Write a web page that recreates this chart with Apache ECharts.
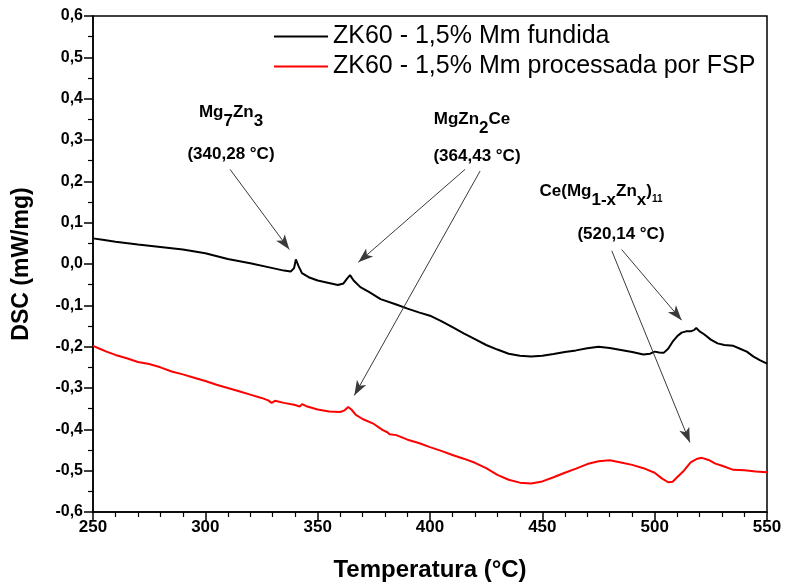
<!DOCTYPE html>
<html><head><meta charset="utf-8">
<script src="https://cdn.jsdelivr.net/npm/echarts@6/dist/echarts.min.js"></script>
<style>html,body{margin:0;padding:0;background:#fff}#c{width:786px;height:587px}</style>
</head><body><div id="c"></div>
<script>
const seriesNames = ['ZK60 - 1,5% Mm fundida', 'ZK60 - 1,5% Mm processada por FSP'];
const xTitle = 'Temperatura (°C)';
const yTitle = 'DSC (mW/mg)';

const blackT = [250,255,260,270,280,290,300,310,320,330,335,338,339.5,340.3,341.5,343,346,350,355,359,361.5,363,364.4,366,369,373,378,385,390,395,400,405,410,415,420,425,430,435,440,445,450,455,460,465,470,475,480,485,490,495,498,500,502,504,506,508,510,512,514,516,517.5,518.5,520,522,525,528,531,535,538,541,544,547,550];
const blackV = [0.062,0.058,0.054,0.047,0.041,0.035,0.026,0.012,0.002,-0.010,-0.016,-0.018,-0.010,0.011,-0.005,-0.022,-0.032,-0.040,-0.046,-0.051,-0.047,-0.036,-0.027,-0.040,-0.056,-0.068,-0.085,-0.098,-0.108,-0.117,-0.125,-0.138,-0.153,-0.168,-0.182,-0.196,-0.207,-0.217,-0.222,-0.224,-0.222,-0.218,-0.213,-0.209,-0.204,-0.200,-0.203,-0.208,-0.213,-0.219,-0.217,-0.212,-0.214,-0.215,-0.205,-0.188,-0.175,-0.166,-0.163,-0.163,-0.160,-0.155,-0.163,-0.170,-0.183,-0.192,-0.196,-0.198,-0.205,-0.212,-0.224,-0.233,-0.241];

const redT = [250,253,256,260,265,270,275,280,285,290,295,300,305,310,315,320,325,328,329.5,331,335,340,342,343,345,350,355,360,362,363.6,365,367,370,375,379,381,382,385,390,395,400,405,410,415,420,425,430,435,440,445,450,455,460,465,470,475,480,485,490,495,500,503,506,508,510,513,516,519,521,524,527,530,535,540,545,550];
const redV = [-0.198,-0.205,-0.212,-0.220,-0.228,-0.237,-0.242,-0.250,-0.260,-0.267,-0.275,-0.283,-0.292,-0.300,-0.308,-0.316,-0.324,-0.330,-0.336,-0.331,-0.336,-0.341,-0.345,-0.339,-0.344,-0.352,-0.357,-0.358,-0.354,-0.346,-0.352,-0.365,-0.375,-0.387,-0.402,-0.407,-0.412,-0.414,-0.425,-0.433,-0.443,-0.452,-0.462,-0.471,-0.481,-0.494,-0.510,-0.522,-0.529,-0.531,-0.526,-0.516,-0.505,-0.495,-0.484,-0.477,-0.475,-0.480,-0.486,-0.494,-0.505,-0.518,-0.528,-0.527,-0.516,-0.500,-0.480,-0.471,-0.469,-0.474,-0.483,-0.488,-0.498,-0.499,-0.502,-0.504];

// annotation arrows: [fromT, fromV, toT, toV]
const arrows = [
  [311.0, 0.229, 337.4, 0.035],
  [415.6, 0.229, 368.1, 0.004],
  [422.3, 0.225, 366.3, -0.318],
  [485.3, 0.035, 512.0, -0.136],
  [480.9, 0.032, 515.7, -0.432]
];

const chart = echarts.init(document.getElementById('c'), null, {renderer: 'canvas'});
const zip = (a, b) => a.map((t, i) => [t, b[i]]);
const F = "'Liberation Sans', Arial, sans-serif";
const rn = {fontFamily: F, fontWeight: 'bold', fontSize: 17, color: '#000', verticalAlign: 'top', lineHeight: 28};
const rs = Object.assign({}, rn, {padding: [9, 0, 0, 0]});
const rss = Object.assign({}, rn, {fontSize: 10, padding: [11, 0, 0, 0]});
const annFont = "bold 17px 'Liberation Sans', Arial";

chart.setOption({
  animation: false,
  backgroundColor: '#fff',
  grid: {left: 93, right: 19, top: 16, bottom: 70, show: true, borderColor: '#000', borderWidth: 1.5, backgroundColor: 'transparent'},
  legend: {
    left: 274, top: 24, orient: 'vertical', itemGap: 5, itemWidth: 54, itemHeight: 2, icon: 'rect', padding: 0,
    textStyle: {fontFamily: F, fontSize: 25, color: '#000', lineHeight: 24},
    data: seriesNames
  },
  xAxis: {
    type: 'value', min: 250, max: 550, interval: 50,
    name: xTitle, nameLocation: 'middle', nameGap: 46,
    nameTextStyle: {fontFamily: F, fontWeight: 'bold', fontSize: 24, color: '#000'},
    axisLine: {show: true, onZero: false, lineStyle: {color: '#000', width: 1.5}},
    axisTick: {show: true, inside: false, length: 9, lineStyle: {color: '#000', width: 1.5}},
    minorTick: {show: true, splitNumber: 5, length: 5, lineStyle: {color: '#000', width: 1.2}},
    axisLabel: {fontFamily: F, fontWeight: 'bold', fontSize: 17, color: '#000', margin: 7},
    splitLine: {show: false}, minorSplitLine: {show: false}
  },
  yAxis: {
    type: 'value', min: -0.6, max: 0.6, interval: 0.1,
    name: yTitle, nameLocation: 'middle', nameGap: 60, nameRotate: 90,
    nameTextStyle: {fontFamily: F, fontWeight: 'bold', fontSize: 23, color: '#000'},
    axisLine: {show: true, onZero: false, lineStyle: {color: '#000', width: 1.5}},
    axisTick: {show: true, inside: false, length: 9, lineStyle: {color: '#000', width: 1.5}},
    minorTick: {show: true, splitNumber: 2, length: 5, lineStyle: {color: '#000', width: 1.2}},
    axisLabel: {fontFamily: F, fontWeight: 'bold', fontSize: 16, color: '#000', margin: 10,
      formatter: v => (Math.round(v * 10) / 10).toFixed(1).replace('.', ',')},
    splitLine: {show: false}, minorSplitLine: {show: false}
  },
  series: [
    {
      name: seriesNames[0], type: 'line', data: zip(blackT, blackV), showSymbol: false, symbol: 'none',
      lineStyle: {color: '#000', width: 2}, itemStyle: {color: '#000'}, z: 3,
      markLine: {
        silent: true, symbol: ['none', 'arrow'], symbolSize: [8, 15], precision: 3,
        label: {show: false},
        lineStyle: {color: '#3a3a3a', width: 1, type: 'solid'},
        data: arrows.map(a => [{coord: [a[0], a[1]]}, {coord: [a[2], a[3]]}])
      }
    },
    {
      name: seriesNames[1], type: 'line', data: zip(redT, redV), showSymbol: false, symbol: 'none',
      lineStyle: {color: '#ff0000', width: 2}, itemStyle: {color: '#ff0000'}, z: 3
    }
  ],
  graphic: [
    {type: 'text', x: 231, y: 104, style: {text: '{n|Mg}{s|7}{n|Zn}{s|3}', rich: {n: rn, s: rs}, align: 'center', verticalAlign: 'top'}},
    {type: 'text', x: 231, y: 154, style: {text: '(340,28 °C)', font: annFont, fill: '#000', align: 'center', verticalAlign: 'middle'}},
    {type: 'text', x: 472, y: 111, style: {text: '{n|MgZn}{s|2}{n|Ce}', rich: {n: rn, s: rs}, align: 'center', verticalAlign: 'top'}},
    {type: 'text', x: 477, y: 156, style: {text: '(364,43 °C)', font: annFont, fill: '#000', align: 'center', verticalAlign: 'middle'}},
    {type: 'text', x: 601, y: 183, style: {text: '{n|Ce(Mg}{s|1-x}{n|Zn}{s|x}{n|)}{t|11}', rich: {n: rn, s: rs, t: rss}, align: 'center', verticalAlign: 'top'}},
    {type: 'text', x: 621, y: 234, style: {text: '(520,14 °C)', font: annFont, fill: '#000', align: 'center', verticalAlign: 'middle'}}
  ]
});
</script></body></html>
